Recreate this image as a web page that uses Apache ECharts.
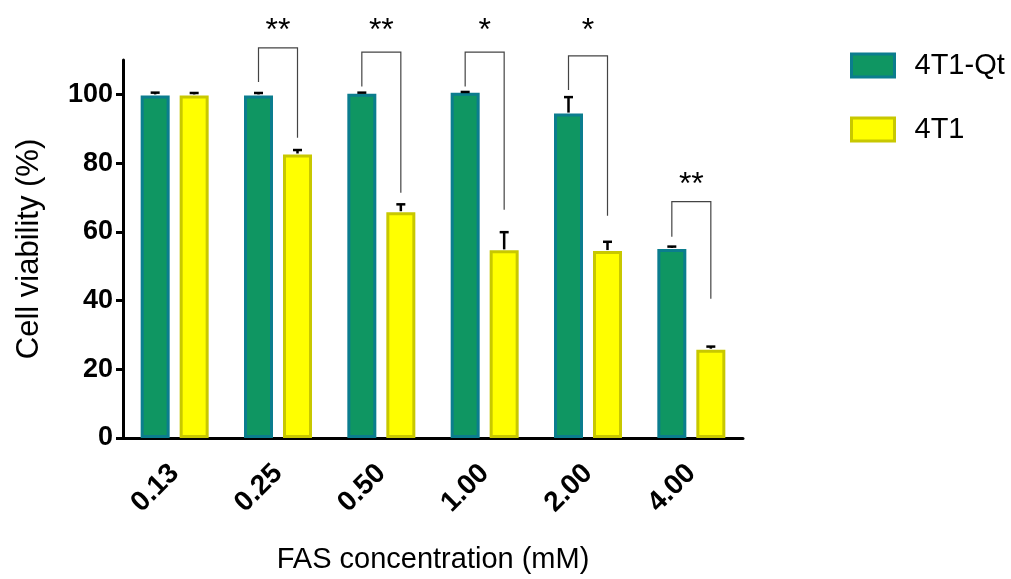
<!DOCTYPE html>
<html>
<head>
<meta charset="utf-8">
<script src="https://cdn.jsdelivr.net/npm/echarts@6/dist/echarts.min.js"></script>
<style>
  html, body { margin: 0; padding: 0; background: #fff; }
  #chart { width: 1011px; height: 579px; }
</style>
</head>
<body>
<div id="chart"></div>
<script>
// data
const categories = ['0.13', '0.25', '0.50', '1.00', '2.00', '4.00']
const qtMean = [99.7, 99.7, 100.2, 100.5, 94.4, 55.0]
const qtErr = [0.8, 0.7, 0.3, 0.2, 4.8, 0.7]
const t1Mean = [99.7, 82.5, 65.7, 54.6, 54.4, 25.7]
const t1Err = [0.7, 1.3, 2.3, 5.3, 2.7, 0.9]
// significance brackets: top of bracket, end of left leg, end of right leg, star height
const sigMarks = ['', '**', '**', '*', '*', '**']
const bracketTop = [null, 113.5, 112.3, 112.3, 111.2, 68.8]
const bracketLeft = [null, 103.6, 102.3, 102.3, 101.3, 58.6]
const bracketRight = [null, 87.4, 71.4, 66.4, 64.7, 40.5]
const starLevel = [null, 118.5, 118.5, 118.5, 118.5, 73.5]
const yTicks = [0, 20, 40, 60, 80, 100]

const BAR_W = 29
const BAR_GAP = 10
const HALF = (BAR_W + BAR_GAP) / 2

let chart = echarts.init(document.getElementById('chart'))

// error bar, only the upper half is drawn
function errorRender (offset) {
  return function (params, api) {
    let top = api.coord([api.value(0), api.value(1) + api.value(2)])
    let base = api.coord([api.value(0), api.value(1)])
    let x = base[0] + offset
    return {
      type: 'group',
      children: [
        { type: 'line', shape: { x1: x, y1: base[1] - 1, x2: x, y2: top[1] }, style: { stroke: '#000', lineWidth: 2.5 } },
        { type: 'line', shape: { x1: x - 4.5, y1: top[1], x2: x + 4.5, y2: top[1] }, style: { stroke: '#000', lineWidth: 2.5 } }
      ]
    }
  }
}

let bracketData = []
sigMarks.forEach((m, i) => {
  if (m) bracketData.push([i, bracketTop[i], bracketLeft[i], bracketRight[i], starLevel[i], m])
})

chart.setOption({
  animation: false,
  grid: { left: 123, right: 268, top: 60, bottom: 138 },
  legend: {
    orient: 'vertical',
    left: 845,
    top: 46,
    itemWidth: 43,
    itemHeight: 23,
    itemGap: 35,
    icon: 'rect',
    textStyle: { fontFamily: 'Liberation Sans', fontSize: 29, color: '#000', padding: [0, 0, 0, 15] },
    data: [
      { name: '4T1-Qt', itemStyle: { color: '#0f9662', borderColor: '#0b7d8e', borderWidth: 3 } },
      { name: '4T1', itemStyle: { color: '#ffff00', borderColor: '#c8c800', borderWidth: 3 } }
    ]
  },
  xAxis: {
    type: 'category',
    data: categories,
    name: 'FAS concentration (mM)',
    nameLocation: 'middle',
    nameGap: 107,
    nameTextStyle: { fontFamily: 'Liberation Sans', fontSize: 29, color: '#000' },
    axisLine: { lineStyle: { color: '#000', width: 3 } },
    axisTick: { alignWithLabel: true, length: 9, lineStyle: { color: '#000', width: 3 } },
    axisLabel: {
      rotate: 45,
      margin: 31,
      padding: [0, 0, 0, 6],
      fontFamily: 'Liberation Sans',
      fontWeight: 'bold',
      fontSize: 28,
      color: '#000'
    }
  },
  yAxis: {
    type: 'value',
    min: 0,
    max: 110,
    name: 'Cell viability (%)',
    nameLocation: 'middle',
    nameGap: 78,
    nameTextStyle: { fontFamily: 'Liberation Sans', fontSize: 31, color: '#000' },
    splitLine: { show: false },
    axisLine: { show: true, lineStyle: { color: '#000', width: 3 } },
    axisTick: { show: true, length: 7, customValues: yTicks, lineStyle: { color: '#000', width: 3 } },
    axisLabel: {
      customValues: yTicks,
      margin: 10,
      fontFamily: 'Liberation Sans',
      fontWeight: 'bold',
      fontSize: 27,
      color: '#000'
    }
  },
  series: [
    {
      name: '4T1-Qt',
      type: 'bar',
      data: qtMean,
      barWidth: BAR_W,
      barGap: (BAR_GAP / BAR_W * 100) + '%',
      itemStyle: { color: '#0f9662', borderColor: '#0b7d8e', borderWidth: 3 }
    },
    {
      name: '4T1',
      type: 'bar',
      data: t1Mean,
      barWidth: BAR_W,
      itemStyle: { color: '#ffff00', borderColor: '#c8c800', borderWidth: 3 }
    },
    {
      type: 'custom',
      renderItem: errorRender(-HALF),
      data: qtMean.map((v, i) => [i, v, qtErr[i]]),
      encode: { x: 0, y: 1 },
      clip: false,
      z: 5
    },
    {
      type: 'custom',
      renderItem: errorRender(HALF),
      data: t1Mean.map((v, i) => [i, v, t1Err[i]]),
      encode: { x: 0, y: 1 },
      clip: false,
      z: 5
    },
    {
      // significance brackets and stars
      type: 'custom',
      clip: false,
      z: 6,
      data: bracketData,
      encode: { x: 0, y: 1 },
      renderItem (params, api) {
        let i = api.value(0)
        let top = api.coord([i, api.value(1)])
        let lEnd = api.coord([i, api.value(2)])
        let rEnd = api.coord([i, api.value(3)])
        let star = api.coord([i, api.value(4)])
        let xl = top[0] - HALF
        let xr = top[0] + HALF
        return {
          type: 'group',
          children: [
            {
              type: 'polyline',
              shape: { points: [[xl, lEnd[1]], [xl, top[1]], [xr, top[1]], [xr, rEnd[1]]] },
              style: { stroke: '#444', lineWidth: 1.2, fill: null }
            },
            {
              type: 'text',
              x: top[0],
              y: star[1],
              style: {
                text: bracketData[params.dataIndex][5],
                fontFamily: 'Liberation Sans',
                fontSize: 32,
                fill: '#000',
                align: 'center',
                verticalAlign: 'middle'
              }
            }
          ]
        }
      }
    }
  ]
})
</script>
</body>
</html>
